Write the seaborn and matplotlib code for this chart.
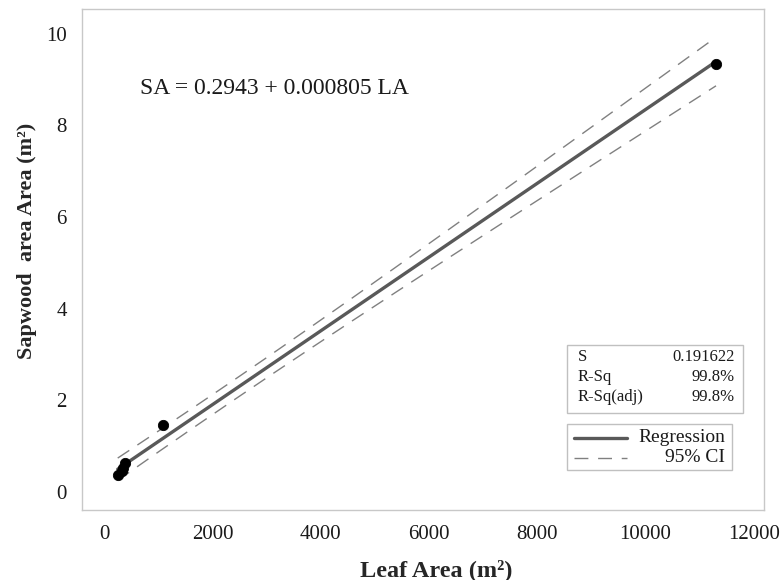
import numpy as np
import pandas as pd
import matplotlib
matplotlib.use("Agg")
import matplotlib.pyplot as plt
import seaborn as sns
from matplotlib.patches import Rectangle
from matplotlib.lines import Line2D

# ================= Data =================
leaf_area = [244, 318, 348, 379, 1081, 11303]
sapwood_area = [0.365, 0.45, 0.525, 0.635, 1.46, 9.34]

intercept = 0.2943
slope = 0.000805
s_value = 0.191622
t_crit = 2.776  # t(0.975, n-2) for n = 6

x_ticks = [0, 2000, 4000, 6000, 8000, 10000, 12000]
y_ticks = [0, 2, 4, 6, 8, 10]

# ================= Style =================
sns.set_style("white")
plt.rcParams['font.family'] = ['Liberation Serif', 'DejaVu Serif']

W, H = 783, 580
fig = plt.figure(figsize=(W / 100, H / 100), dpi=100)
ax = fig.add_axes([82 / W, 1 - 510 / H, (764 - 82) / W, (510 - 9) / H])

df = pd.DataFrame({'LA': leaf_area, 'SA': sapwood_area})

# fitted line and 95% CI of the mean
xs = np.linspace(min(leaf_area), max(leaf_area), 200)
x_arr = np.array(leaf_area)
n = len(x_arr)
sxx = ((x_arr - x_arr.mean()) ** 2).sum()
fit = intercept + slope * xs
half = t_crit * s_value * np.sqrt(1 / n + (xs - x_arr.mean()) ** 2 / sxx)
fit_df = pd.DataFrame({'LA': xs, 'fit': fit, 'lo': fit - half, 'hi': fit + half})

ci_color = '#808080'
dash = (0, (10, 7))
sns.lineplot(data=fit_df, x='LA', y='hi', ax=ax, color=ci_color, lw=1.0, linestyle=dash)
sns.lineplot(data=fit_df, x='LA', y='lo', ax=ax, color=ci_color, lw=1.0, linestyle=dash)
sns.lineplot(data=fit_df, x='LA', y='fit', ax=ax, color='#595959', lw=2.4)
sns.scatterplot(data=df, x='LA', y='SA', ax=ax, color='black', s=55, edgecolor='black',
                zorder=5)

ax.set_xlim(-416, 12190)
ax.set_ylim(-0.40, 10.54)
ax.set_xticks(x_ticks)
ax.set_yticks(y_ticks)
ax.tick_params(axis='both', labelsize=15, length=5, width=0.8, color='#bdbdbd',
               direction='out', pad=6, labelcolor='#1a1a1a')
for sp in ax.spines.values():
    sp.set_color('#c8c8c8')
    sp.set_linewidth(1.0)

ax.set_xlabel('Leaf Area (m²)', fontsize=17.5, fontweight='bold')
ax.set_ylabel('Sapwood  area Area (m²)', fontsize=16, fontweight='bold')
ax.xaxis.set_label_coords(0.519, -0.097)
ax.yaxis.set_label_coords(-0.066, 0.537)

ax.text(140 / W, 1 - 88 / H, 'SA = 0.2943 + 0.000805 LA', transform=fig.transFigure,
        fontsize=17, va='center', ha='left', color='#1a1a1a')

# stats box
box_col = '#c0c0c0'
fig.patches.append(Rectangle((567 / W, 1 - 413 / H), (743 - 567) / W, (413 - 345) / H,
                             transform=fig.transFigure, fill=False, edgecolor=box_col, lw=1.0))
stats = [('S', '0.191622'), ('R-Sq', '99.8%'), ('R-Sq(adj)', '99.8%')]
for i, (k, v) in enumerate(stats):
    yy = 1 - (357 + i * 20) / H
    fig.text(578 / W, yy, k, fontsize=12, va='center', ha='left', color='#1a1a1a')
    fig.text(735 / W, yy, v, fontsize=12, va='center', ha='right', color='#1a1a1a')

# legend box
fig.patches.append(Rectangle((567 / W, 1 - 470 / H), (732 - 567) / W, (470 - 424) / H,
                             transform=fig.transFigure, fill=False, edgecolor=box_col, lw=1.0))
fig.lines.append(Line2D([574 / W, 627 / W], [1 - 438 / H] * 2, transform=fig.transFigure,
                        color='#595959', lw=2.4))
fig.lines.append(Line2D([574 / W, 627 / W], [1 - 458 / H] * 2, transform=fig.transFigure,
                        color=ci_color, lw=1.0, linestyle=dash))
fig.text(725 / W, 1 - 438 / H, 'Regression', fontsize=14, va='center', ha='right',
         color='#1a1a1a')
fig.text(725 / W, 1 - 458 / H, '95% CI', fontsize=14, va='center', ha='right',
         color='#1a1a1a')

fig.savefig('out.png', dpi=100)
